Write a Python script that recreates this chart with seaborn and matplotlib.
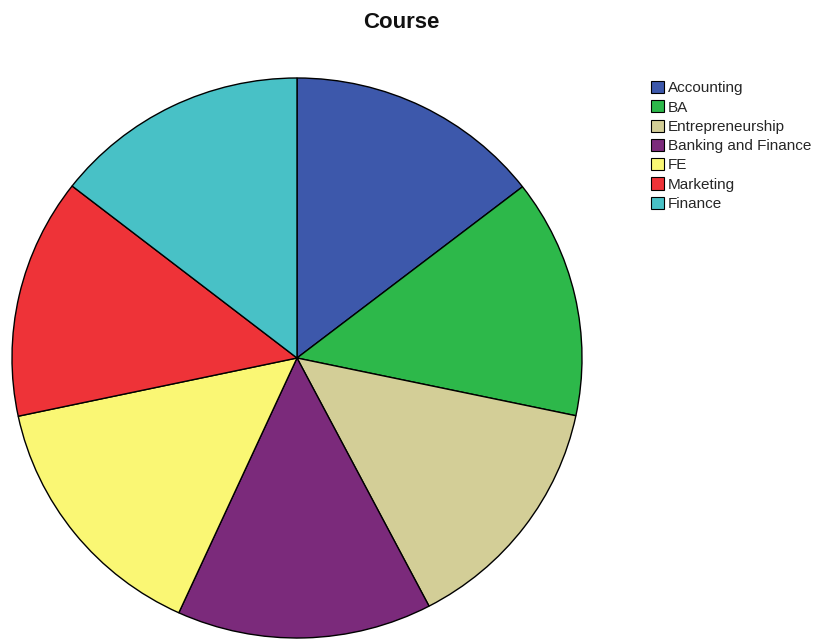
import matplotlib
matplotlib.use("Agg")
import matplotlib.pyplot as plt
import seaborn as sns

# Course enrolment shares (degrees of the pie)
courses = ["Accounting", "BA", "Entrepreneurship", "Banking and Finance",
           "FE", "Marketing", "Finance"]
shares = [52.3, 49.6, 50.5, 52.1, 53.5, 49.9, 52.1]
colors = ["#3D58AB", "#2DB84A", "#D3CE97", "#7B2A7B",
          "#FAF774", "#EE3338", "#48C1C6"]

sns.set_theme(style="white")
plt.rcParams["font.family"] = ["Liberation Sans", "DejaVu Sans"]

W, H = 819, 639
fig = plt.figure(figsize=(W / 100, H / 100), dpi=100)
fig.patch.set_facecolor("white")

# pie axes: centre (297, 358) px, radii 285 x 280 px
cx, cy, rx, ry = 297, 358, 285, 280
ax = fig.add_axes([(cx - rx) / W, (H - cy - ry) / H, 2 * rx / W, 2 * ry / H])
wedges, _ = ax.pie(shares, colors=sns.color_palette(colors), startangle=90,
                   counterclock=False, radius=1.0,
                   wedgeprops=dict(edgecolor="black", linewidth=1.0))
ax.set_xlim(-1, 1)
ax.set_ylim(-1, 1)
ax.set_aspect("auto")
ax.axis("off")

fig.text(401 / W, 1 - 22 / H, "Course", ha="center", va="center",
         fontsize=16, fontweight="bold", color="#111111")

leg = fig.legend(wedges, courses, loc="upper left",
                 bbox_to_anchor=(651 / W, 1 - 81 / H),
                 frameon=False, fontsize=11, handlelength=0.85,
                 handleheight=0.85, handletextpad=0.25, labelspacing=0.32,
                 borderpad=0, borderaxespad=0)
for h in leg.legend_handles:
    h.set_edgecolor("black")
    h.set_linewidth(0.8)

fig.savefig("out.png", dpi=100)
